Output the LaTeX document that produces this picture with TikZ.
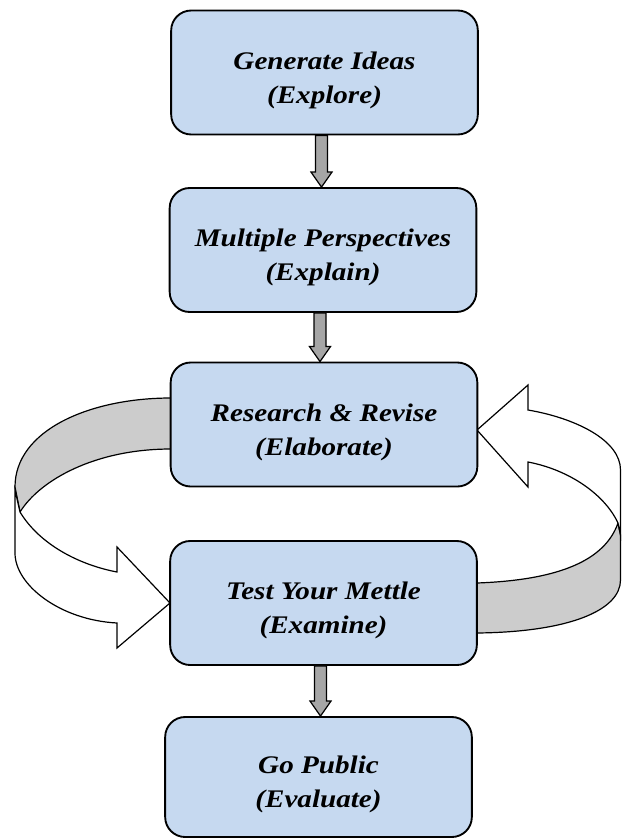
\documentclass[tikz,border=0pt]{standalone}
\usepackage{fontspec}
\setmainfont{Liberation Serif}
\newfontfamily\boxfont{Liberation Serif}[FakeStretch=1.15]
\usetikzlibrary{calc}
\definecolor{boxblue}{RGB}{198,217,240}
\definecolor{arrgray}{RGB}{166,166,166}
\definecolor{bandgray}{RGB}{204,204,204}
\newcommand{\dnarrow}[2]{%
  \draw[darr] ($(#1.south)+(-9,0)$) -- ($(#1.south |- #2.north)+(-9,-15)$) -- ($(#1.south |- #2.north)+(-13.5,-15)$) -- ($(#1.south |- #2.north)+(-3,0)$) -- ($(#1.south |- #2.north)+(7.5,-15)$) -- ($(#1.south |- #2.north)+(3,-15)$) -- ($(#1.south)+(3,0)$) -- cycle;}
\begin{document}
\begin{tikzpicture}[x=0.75pt,y=-0.75pt,
  box/.style={draw=black,line width=1.4pt,fill=boxblue,rounded corners=15pt,
    minimum width=230pt,minimum height=93pt,inner sep=0pt,align=center,
    font=\boxfont\fontsize{19}{25.5}\selectfont\bfseries\itshape,
    text height=45.8pt,text depth=0pt},
  darr/.style={draw=black,line width=0.9pt,fill=arrgray,line join=miter},
  bandback/.style={draw=black,line width=0.9pt,fill=bandgray,line join=round},
  bandfront/.style={draw=black,line width=0.9pt,fill=white,line join=miter}]
\useasboundingbox (0,0) rectangle (622,839);

% left curved arrow (from Research & Revise to Test Your Mettle)
\draw[bandback] (171,398) .. controls (90,398) and (15,430) .. (15,487)
  -- (20,512) .. controls (40,480) and (95,449) .. (171,449) -- cycle;
\draw[bandfront] (20,512) -- (15,490) -- (15,553) .. controls (15,585) and (60,620) .. (117,623)
  -- (117,648) -- (170,603) -- (117,547) -- (117,572)
  .. controls (80,565) and (40,545) .. (20,512) -- cycle;

% right curved arrow (from Test Your Mettle to Research & Revise)
\draw[bandback] (477,583) .. controls (560,580) and (605,560) .. (618,523)
  -- (620.5,535) -- (620.5,580) .. controls (620.5,610) and (570,632) .. (477,633) -- cycle;
\draw[bandfront] (528,462) .. controls (570,470) and (605,495) .. (618,523)
  -- (620.5,535) -- (620.5,470) .. controls (620.5,440) and (575,418) .. (528,410)
  -- (528,385) -- (477,430) -- (528,487) -- cycle;

\node[box] (b1) at (324.5,72.5) {Generate Ideas\\(Explore)};
\node[box] (b2) at (323,250) {Multiple Perspectives\\(Explain)};
\node[box] (b3) at (324,424.5) {Research \& Revise\\(Elaborate)};
\node[box] (b4) at (323.5,603) {Test Your Mettle\\(Examine)};
\node[box,minimum height=90pt] (b5) at (318.5,777) {Go Public\\(Evaluate)};

\dnarrow{b1}{b2}
\dnarrow{b2}{b3}
\dnarrow{b4}{b5}
\end{tikzpicture}
\end{document}
